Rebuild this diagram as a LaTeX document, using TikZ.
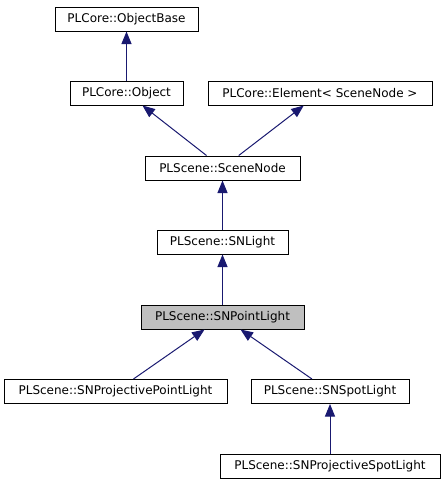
\documentclass[tikz,border=0pt]{standalone}
\usepackage{fontspec}
\setmainfont{DejaVu Sans}
\usetikzlibrary{arrows.meta}

\definecolor{edgeblue}{RGB}{25,25,112}
\definecolor{nodegray}{RGB}{191,191,191}

\begin{document}
\begin{tikzpicture}[x=1pt,y=-1pt,
  cls/.style={draw=black,fill=white,line width=1pt,minimum height=24pt,inner sep=0pt,font=\fontsize{12}{13}\selectfont},
  inh/.style={draw=edgeblue,line width=1pt,-{Triangle[width=10pt,length=12.5pt]}}]

\useasboundingbox (0,0) rectangle (445,485);

\node [cls,minimum width=143pt] (objbase) at (126.5,19) {PLCore::ObjectBase};
\node [cls,minimum width=113pt] (obj) at (126.5,93) {PLCore::Object};
\node [cls,minimum width=224pt] (elem) at (320,93) {PLCore::Element< SceneNode >};

\node [cls,minimum width=155pt] (scenenode) at (222.5,168) {PLScene::SceneNode};
\node [cls,minimum width=131pt] (snlight) at (222.5,242) {PLScene::SNLight};
\node [cls,minimum width=163pt,fill=nodegray] (pointlight) at (222.5,317) {PLScene::SNPointLight};

\node [cls,minimum width=223pt] (projpoint) at (115.5,391.5) {PLScene::SNProjectivePointLight};
\node [cls,minimum width=158pt] (spotlight) at (330,391.5) {PLScene::SNSpotLight};
\node [cls,minimum width=220pt] (projspot) at (330,466.5) {PLScene::SNProjectiveSpotLight};

\draw[inh] (obj)--(objbase);
\draw[inh] (scenenode)--(obj);
\draw[inh] (scenenode)--(elem);
\draw[inh] (snlight)--(scenenode);
\draw[inh] (pointlight)--(snlight);
\draw[inh] (projpoint)--(pointlight);
\draw[inh] (spotlight)--(pointlight);
\draw[inh] (projspot)--(spotlight);

\end{tikzpicture}
\end{document}
